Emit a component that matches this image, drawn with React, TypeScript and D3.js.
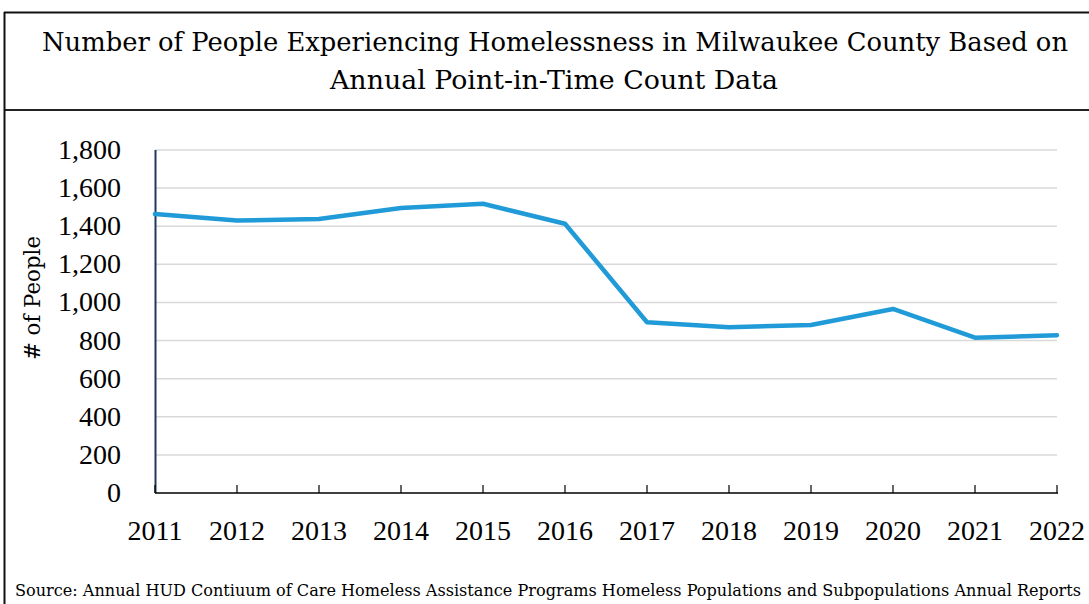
import React from "react";
import * as d3 from "d3";

const years = ["2011","2012","2013","2014","2015","2016","2017","2018","2019","2020","2021","2022"];
const people = [1464, 1430, 1438, 1496, 1518, 1413, 896, 870, 882, 966, 815, 828];
const yTicks = [0, 200, 400, 600, 800, 1000, 1200, 1400, 1600, 1800];
const titleLines = [
  "Number of People Experiencing Homelessness in Milwaukee County Based on",
  "Annual Point-in-Time Count Data",
];
const yLabel = "# of People";
const source = "Source: Annual HUD Contiuum of Care Homeless Assistance Programs Homeless Populations and Subpopulations Annual Reports";

export default function App() {
  const W = 1089, H = 604;
  const x = d3.scalePoint<string>().domain(years).range([155, 1057]);
  const y = d3.scaleLinear().domain([0, 1800]).range([493, 150]);
  const line = d3.line<number>().x((_, i) => x(years[i])!).y(d => y(d));
  const fmt = d3.format(",");
  const numFont = "'Liberation Serif', serif";
  const txtFont = "'DejaVu Serif', serif";
  return (
    <svg width={W} height={H} style={{ position: "absolute", left: 0, top: 0, background: "#fff" }}>
      {/* frame */}
      <line x1={4} x2={W} y1={12.5} y2={12.5} stroke="#111" strokeWidth={2} />
      <line x1={4} x2={W} y1={110} y2={110} stroke="#222" strokeWidth={2} />
      <line x1={4.5} x2={4.5} y1={12} y2={H} stroke="#111" strokeWidth={2} />
      {/* title */}
      <text x={555} y={51} textAnchor="middle" fontFamily={txtFont} fontSize={26} fill="#000"
        textLength={1026} lengthAdjust="spacingAndGlyphs">{titleLines[0]}</text>
      <text x={554} y={89} textAnchor="middle" fontFamily={txtFont} fontSize={26} fill="#000"
        textLength={448} lengthAdjust="spacingAndGlyphs">{titleLines[1]}</text>
      {/* gridlines */}
      {yTicks.filter(t => t > 0).map(t => (
        <line key={t} x1={155} x2={1057} y1={y(t)} y2={y(t)} stroke="#d9d9d9" strokeWidth={1.5} />
      ))}
      {/* y tick labels */}
      {yTicks.map(t => (
        <text key={t} x={121} y={y(t) + 9} textAnchor="end" fontFamily={numFont} fontSize={28} fill="#000">{fmt(t)}</text>
      ))}
      {/* axes */}
      <line x1={155.5} x2={155.5} y1={150} y2={493} stroke="#1f3a5a" strokeWidth={2} />
      <line x1={155} x2={1058} y1={493} y2={493} stroke="#000" strokeWidth={1.5} />
      {years.map(yr => (
        <line key={yr} x1={x(yr)!} x2={x(yr)!} y1={485} y2={493} stroke="#000" strokeWidth={1.2} />
      ))}
      {/* x labels */}
      {years.map(yr => (
        <text key={yr} x={x(yr)!} y={540} textAnchor="middle" fontFamily={numFont} fontSize={28} fill="#000">{yr}</text>
      ))}
      {/* y label */}
      <text transform="translate(40,298) rotate(-90)" textAnchor="middle" fontFamily={txtFont} fontSize={23} fill="#000"
        textLength={124} lengthAdjust="spacingAndGlyphs">{yLabel}</text>
      {/* series */}
      <path d={line(people)!} fill="none" stroke="#219bd8" strokeWidth={4.5} strokeLinejoin="round" strokeLinecap="round" />
      {/* source */}
      <text x={548} y={596} textAnchor="middle" fontFamily={txtFont} fontSize={16} fill="#000"
        textLength={1066} lengthAdjust="spacingAndGlyphs">{source}</text>
    </svg>
  );
}
